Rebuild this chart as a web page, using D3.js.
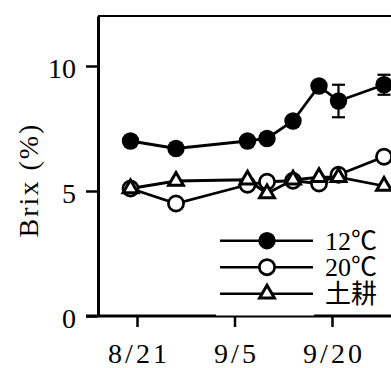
<!DOCTYPE html>
<html>
<head>
<meta charset="utf-8">
<script src="https://cdn.jsdelivr.net/npm/d3@7"></script>
<style>
  body { margin: 0; background: #fff; }
  svg { display: block; }
  .line { fill: none; stroke: #000; stroke-width: 2.8; }
  text { font-family: "Liberation Serif", "Noto Sans CJK JP", serif; fill: #000; }
</style>
</head>
<body>
<div id="chart"></div>
<script>
// days counted from Aug 0 (8/21 = 21, 9/5 = 36, ...)
const days = [20, 27, 38, 41, 45, 49, 52, 59];
const brix12 = [7.0, 6.7, 7.0, 7.1, 7.8, 9.2, 8.6, 9.25];
const err12 = [0, 0, 0, 0, 0, 0, 0.65, 0.4];
const brix20 = [5.1, 4.5, 5.25, 5.37, 5.41, 5.3, 5.65, 6.37];
const brixSoil = [5.1, 5.4, 5.45, 4.9, 5.45, 5.55, 5.55, 5.2];

const xTickDays = [21, 36, 51];
const xTickLabels = ['8/21', '9/5', '9/20'];
const yTicks = [0, 5, 10];
const legendNames = ['12℃', '20℃', '土耕'];

function init() {
  const width = 391, height = 368;

  const svg = d3.select('#chart')
    .append('svg')
    .attr('width', width)
    .attr('height', height);

  const x = d3.scaleLinear().domain([15, 62]).range([98, 98 + 47 * 6.5]);
  const y = d3.scaleLinear().domain([0, 12]).range([316, 16]);

  const line = d3.line()
    .x(d => x(d.x))
    .y(d => y(d.y));

  const toPoints = vals => vals.map((v, i) => ({ x: days[i], y: v, e: err12[i] }));
  const s12 = toPoints(brix12);
  const s20 = toPoints(brix20);
  const sSoil = toPoints(brixSoil);

  // top frame
  svg.append('line')
    .attr('x1', x(15)).attr('x2', width + 5)
    .attr('y1', y(12)).attr('y2', y(12))
    .attr('stroke', '#000').attr('stroke-width', 2);

  // axes
  const yAxis = d3.axisLeft(y).tickValues(yTicks).tickSize(12).tickPadding(10).tickSizeOuter(0);
  const axisY = svg.append('g')
    .attr('transform', 'translate(' + x(15) + ',0)')
    .call(yAxis);
  axisY.select('.domain').attr('stroke-width', 3);
  axisY.selectAll('.tick line').attr('stroke-width', 2.5);
  axisY.selectAll('.tick text')
    .attr('font-size', '28px')
    .attr('font-family', '"Liberation Serif", serif')
    .attr('dy', '0.42em');

  const xAxis = d3.axisBottom(x).tickValues(xTickDays)
    .tickFormat((d, i) => xTickLabels[i])
    .tickSize(11).tickPadding(16).tickSizeOuter(0);
  const axisX = svg.append('g')
    .attr('transform', 'translate(0,' + y(0) + ')')
    .call(xAxis);
  axisX.select('.domain')
    .attr('d', 'M' + (x(15) - 12) + ',0H' + (width + 5))
    .attr('stroke-width', 3);
  axisX.selectAll('.tick line').attr('stroke-width', 2.5);
  axisX.selectAll('.tick text')
    .attr('font-size', '28px')
    .attr('font-family', '"Liberation Serif", serif')
    .attr('letter-spacing', '3px')
    .attr('dx', '1.5px');

  // y title
  svg.append('text')
    .attr('transform', 'translate(38,180) rotate(-90)')
    .attr('text-anchor', 'middle')
    .attr('font-size', '28px')
    .attr('letter-spacing', '2px')
    .text('Brix (%)');

  // lines
  [s12, s20, sSoil].forEach(s => {
    svg.append('path').datum(s)
      .attr('class', 'line')
      .attr('d', line);
  });

  // error bars (12℃)
  const eb = svg.append('g').attr('stroke', '#000').attr('stroke-width', 2.2);
  s12.filter(d => d.e > 0).forEach(d => {
    eb.append('line')
      .attr('x1', x(d.x)).attr('x2', x(d.x))
      .attr('y1', y(d.y - d.e)).attr('y2', y(d.y + d.e));
    [d.y - d.e, d.y + d.e].forEach(v => {
      eb.append('line')
        .attr('x1', x(d.x) - 6.5).attr('x2', x(d.x) + 6.5)
        .attr('y1', y(v)).attr('y2', y(v));
    });
  });

  const tri = d3.symbol(d3.symbolTriangle, 95);

  function drawFilled(g, px, py) {
    g.append('circle').attr('cx', px).attr('cy', py).attr('r', 8.7).attr('fill', '#000');
  }
  function drawOpen(g, px, py) {
    g.append('circle').attr('cx', px).attr('cy', py).attr('r', 7.6)
      .attr('fill', '#fff').attr('stroke', '#000').attr('stroke-width', 2.7);
  }
  function drawTri(g, px, py) {
    g.append('path').attr('d', tri)
      .attr('transform', 'translate(' + px + ',' + py + ')')
      .attr('fill', '#fff').attr('stroke', '#000').attr('stroke-width', 3);
  }

  const marks = svg.append('g');
  s12.forEach(d => drawFilled(marks, x(d.x), y(d.y)));
  s20.forEach(d => drawOpen(marks, x(d.x), y(d.y)));
  sSoil.forEach(d => drawTri(marks, x(d.x), y(d.y)));

  // legend
  const legend = svg.append('g');
  legend.append('rect')
    .attr('x', 216).attr('y', 226)
    .attr('width', 98).attr('height', 89.5)
    .attr('fill', '#fff');
  const drawers = [drawFilled, drawOpen, drawTri];
  legendNames.forEach((name, i) => {
    const ly = 240.7 + i * 26.5;
    legend.append('line')
      .attr('x1', 220).attr('x2', 313)
      .attr('y1', ly).attr('y2', ly)
      .attr('stroke', '#000').attr('stroke-width', 2.5);
    drawers[i](legend, 267, ly);
    legend.append('text')
      .attr('x', 325).attr('y', ly + 9)
      .attr('font-size', '26px')
      .text(name);
  });
}

init();
</script>
</body>
</html>
